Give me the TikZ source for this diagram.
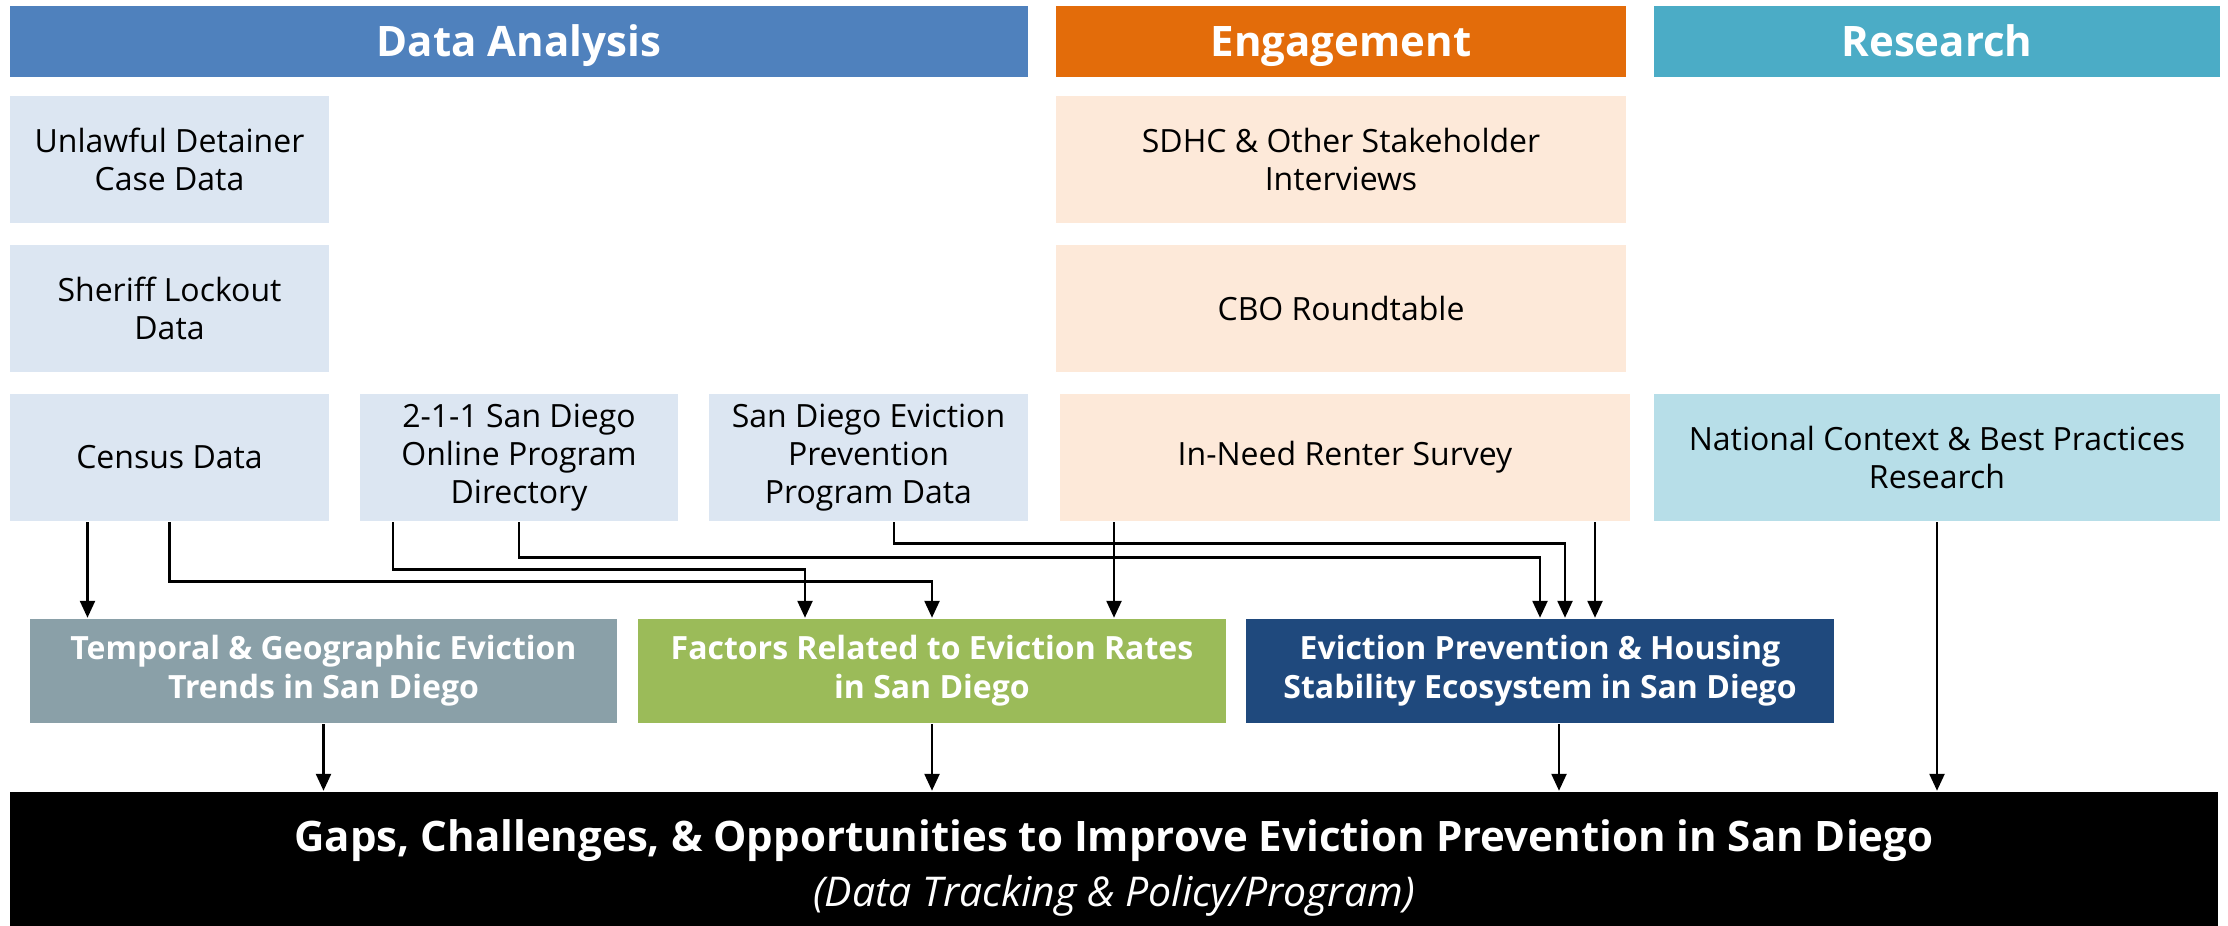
\documentclass[tikz,border=0pt]{standalone}
\usepackage{fontspec}
\setmainfont{Open Sans}
\usetikzlibrary{arrows.meta}
\definecolor{daBlue}{HTML}{4F81BD}
\definecolor{engOrange}{HTML}{E36C0A}
\definecolor{resTeal}{HTML}{4BACC6}
\definecolor{daLight}{HTML}{DCE6F2}
\definecolor{engLight}{HTML}{FDE9D9}
\definecolor{resLight}{HTML}{B7DEE8}
\definecolor{trendGrey}{HTML}{8AA0A8}
\definecolor{factGreen}{HTML}{9BBB59}
\definecolor{ecoNavy}{HTML}{1F497D}
\tikzset{every picture/.style={line width=2.5pt}}

\begin{document}
\begin{tikzpicture}[x=1pt,y=1pt,yscale=-1,xscale=1,
	hdr/.style={fill=#1, text=white, minimum height=71, inner sep=0, text height=30, text depth=0, font=\bfseries\fontsize{42}{50}\selectfont},
	srcbox/.style={fill=#1, text=black, minimum height=127, inner sep=0, align=center, font=\fontsize{32}{38}\selectfont},
	outbox/.style={fill=#1, text=white, minimum height=104, inner sep=0, align=center, font=\bfseries\fontsize{32}{39}\selectfont},
	arr/.style={-{Triangle[length=17pt,width=15pt]}}]
	\useasboundingbox (0,0) rectangle (2228,926);
	
	% Headers
	\node [hdr=daBlue, minimum width=1018] (hdata) at (519,41.5) {Data Analysis};
	\node [hdr=engOrange, minimum width=570] (heng) at (1341,41.5) {Engagement};
	\node [hdr=resTeal, minimum width=566] (hres) at (1937,41.5) {Research};
	
	% Data Analysis sources
	\node [srcbox=daLight, minimum width=319] (unlawful) at (169.5,159.5) {Unlawful Detainer\\Case Data};
	\node [srcbox=daLight, minimum width=319] (sheriff) at (169.5,308.5) {Sheriff Lockout\\Data};
	\node [srcbox=daLight, minimum width=319] (census) at (169.5,457.5) {Census Data};
	\node [srcbox=daLight, minimum width=318] (dir) at (519,457.5) {2-1-1 San Diego\\Online Program\\Directory};
	\node [srcbox=daLight, minimum width=319] (sdep) at (868.5,457.5) {San Diego Eviction\\Prevention\\Program Data};
	
	% Engagement sources
	\node [srcbox=engLight, minimum width=570] (sdhc) at (1341,159.5) {SDHC \& Other Stakeholder\\Interviews};
	\node [srcbox=engLight, minimum width=570] (cbo) at (1341,308.5) {CBO Roundtable};
	\node [srcbox=engLight, minimum width=570] (renter) at (1345,457.5) {In-Need Renter Survey};
	
	% Research source
	\node [srcbox=resLight, minimum width=566] (national) at (1937,457.5) {National Context \& Best Practices\\Research};
	
	% Findings
	\node [outbox=trendGrey, minimum width=587] (trends) at (323.5,671) {Temporal \& Geographic Eviction\\Trends in San Diego};
	\node [outbox=factGreen, minimum width=588] (factors) at (932,671) {Factors Related to Eviction Rates\\in San Diego};
	\node [outbox=ecoNavy, minimum width=588] (eco) at (1540,671) {Eviction Prevention \& Housing\\Stability Ecosystem in San Diego};
	
	% Result
	\node [fill=black, text=white, minimum width=2208, minimum height=134, inner sep=0, align=center, font=\fontsize{42}{55}\selectfont] (gaps) at (1114,859)
		{\rule{0pt}{50pt}{\bfseries Gaps, Challenges, \& Opportunities to Improve Eviction Prevention in San Diego}\\
		 {\itshape\fontsize{41}{55}\selectfont (Data Tracking \& Policy/Program)}};
	
	% Connectors
	\coordinate (cen1) at ([xshift=-82]census.south);
	\draw [arr] (cen1) -- (cen1 |- trends.north);
	\draw [arr] (census.south) -- ++(0,59) -| (factors.north);
	\draw [arr] ([xshift=-126]dir.south) -- ++(0,47) -| ([xshift=-127]factors.north);
	\draw [arr] (dir.south) -- ++(0,35) -| (eco.north);
	\draw [arr] ([xshift=25.5]sdep.south) -- ++(0,21) -| ([xshift=25]eco.north);
	\coordinate (rent1) at ([xshift=-231]renter.south);
	\draw [arr] (rent1) -- (rent1 |- factors.north);
	\coordinate (rent2) at ([xshift=250]renter.south);
	\draw [arr] (rent2) -- (rent2 |- eco.north);
	\draw [arr] (national.south) -- (national.south |- gaps.north);
	\draw [arr] (trends.south) -- (trends.south |- gaps.north);
	\draw [arr] (factors.south) -- (factors.south |- gaps.north);
	\coordinate (eco1) at ([xshift=19]eco.south);
	\draw [arr] (eco1) -- (eco1 |- gaps.north);
	
\end{tikzpicture}
\end{document}
